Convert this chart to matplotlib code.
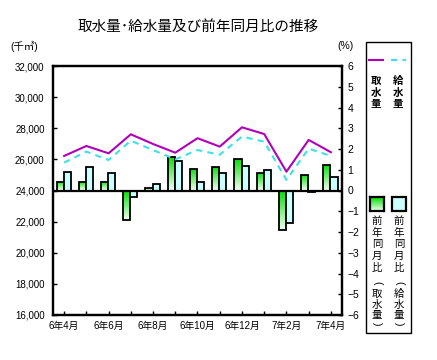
import matplotlib
matplotlib.use("Agg")
import matplotlib.pyplot as plt
import numpy as np
from matplotlib.colors import LinearSegmentedColormap
from matplotlib.lines import Line2D
from matplotlib.patches import Rectangle

plt.rcParams['font.family'] = ['Liberation Sans', 'Noto Sans CJK JP']

# data
months = ['6年4月', '6年5月', '6年6月', '6年7月', '6年8月', '6年9月', '6年10月',
          '6年11月', '6年12月', '7年1月', '7年2月', '7年3月', '7年4月']
intake = [26220, 26860, 26390, 27610, 26990, 26430, 27360,
          26820, 28060, 27630, 25210, 27250, 26460]
supply = [25790, 26500, 25960, 27200, 26600, 26000, 26600,
          26300, 27460, 27140, 24680, 26690, 26220]
intake_yoy = [0.43, 0.43, 0.43, -1.42, 0.14, 1.63, 1.02,
              1.12, 1.50, 0.86, -1.90, 0.73, 1.21]
supply_yoy = [0.91, 1.12, 0.86, -0.30, 0.33, 1.42, 0.41,
              0.86, 1.20, 0.99, -1.55, -0.09, 0.64]

purple = '#b000b8'
cyan = '#3ee0e8'
light_cyan = '#ccffff'
green_map = LinearSegmentedColormap.from_list('g', ['#f2fff2', '#00dd00'])

fig = plt.figure(figsize=(4.37, 3.6), dpi=100)
ax = fig.add_axes([53 / 437, 45 / 360, 289 / 437, 249 / 360])
ax2 = ax.twinx()
ax.set_zorder(2)
ax.patch.set_visible(False)

x = np.arange(len(months))
w = 0.32

# bars on the right (%) axis
gbars = ax2.bar(x - w / 2 - 0.02, intake_yoy, w, color='none',
                edgecolor='black', linewidth=1.3, zorder=3)
grad = np.linspace(0, 1, 100).reshape(-1, 1)
for b in gbars:
    x0, y0 = b.get_x(), b.get_y()
    bw, bh = b.get_width(), b.get_height()
    top, bot = max(y0, y0 + bh), min(y0, y0 + bh)
    im = ax2.imshow(grad, cmap=green_map, aspect='auto', origin='lower',
                    extent=[x0, x0 + bw, bot, top], zorder=2)
    im.set_clip_path(b)
ax2.bar(x + w / 2 - 0.02, supply_yoy, w, color=light_cyan,
        edgecolor='black', linewidth=1.3, zorder=3)
ax2.axhline(0, color='black', linewidth=1.6, zorder=4)
ax2.set_ylim(-6, 6)
ax2.set_yticks(range(-6, 7))
ax2.set_xlim(-0.5, len(months) - 0.5)

# lines on the left axis
ax.plot(x, intake, color=purple, linewidth=1.5)
ax.plot(x, supply, color=cyan, linewidth=1.5, linestyle=(0, (3, 2.5)))
ax.set_ylim(16000, 32000)
ax.set_yticks(range(16000, 32001, 2000))
ax.set_yticklabels(['{:,}'.format(v) for v in range(16000, 32001, 2000)])
ax.set_xlim(-0.5, len(months) - 0.5)
ax.set_xticks(x)
ax.set_xticklabels([m if i % 2 == 0 else '' for i, m in enumerate(months)])

for a in (ax, ax2):
    for s in a.spines.values():
        s.set_linewidth(1.6)
ax.tick_params(axis='y', direction='in', length=3, width=1, labelsize=7, pad=6)
ax.tick_params(axis='x', direction='in', length=3, width=1, labelsize=7, pad=4)
ax2.tick_params(axis='y', direction='in', length=3, width=1, labelsize=7.5, pad=4)

fig.text(0.453, 0.925, '取水量･給水量及び前年同月比の推移', ha='center', va='center',
         fontsize=10.5)
fig.text(10 / 437, 1 - 46 / 360, '(千㎥)', ha='left', va='center', fontsize=7.5)
fig.text(337 / 437, 1 - 46 / 360, '(%)', ha='left', va='center', fontsize=7.5)

# legend box
fig.patches.append(Rectangle((366 / 437, 1 - 333 / 360), 45 / 437, 291 / 360,
                             transform=fig.transFigure, fill=False,
                             edgecolor='black', linewidth=1))
fig.lines.append(Line2D([369 / 437, 383 / 437], [1 - 60 / 360] * 2,
                        transform=fig.transFigure, color=purple, linewidth=1.5))
fig.lines.append(Line2D([391 / 437, 406 / 437], [1 - 60 / 360] * 2,
                        transform=fig.transFigure, color=cyan, linewidth=1.5,
                        linestyle=(0, (3, 2.5))))


def vtext(xp, ys, chars, **kw):
    for yp, ch in zip(ys, chars):
        rot = -90 if ch in '()' else 0
        fig.text(xp / 437, 1 - yp / 360, ch, ha='center', va='center',
                 fontsize=7.5, rotation=rot, rotation_mode='anchor', **kw)


top_ys = [81, 92.5, 104]
vtext(376, top_ys, '取水量', fontweight='bold')
vtext(398, top_ys, '給水量', fontweight='bold')

gax = fig.add_axes([370 / 437, 1 - 211 / 360, 14 / 437, 14 / 360])
gax.imshow(grad, cmap=green_map, aspect='auto', origin='lower',
           extent=[0, 1, 0, 1])
gax.set_xticks([])
gax.set_yticks([])
for s in gax.spines.values():
    s.set_linewidth(1.6)
fig.patches.append(Rectangle((392 / 437, 1 - 211 / 360), 14 / 437, 14 / 360,
                             transform=fig.transFigure, facecolor=light_cyan,
                             edgecolor='black', linewidth=1.6))
low_ys = [221, 233, 244, 256, 268, 283, 294, 305, 315, 324]
vtext(377, low_ys, '前年同月比(取水量)')
vtext(399, low_ys, '前年同月比(給水量)')

fig.savefig('out.png', dpi=100)
